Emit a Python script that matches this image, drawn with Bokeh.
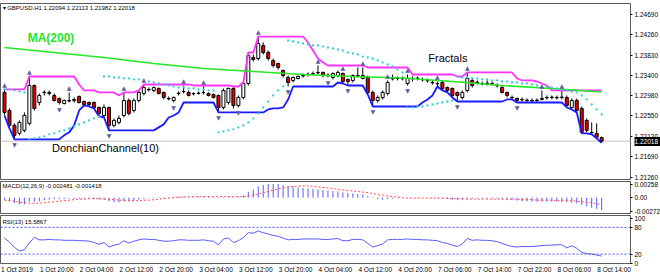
import pandas as pd
from bokeh.plotting import figure
from bokeh.layouts import column
from bokeh.models import (Range1d, FixedTicker, Span, Label, ColumnDataSource,
                          PrintfTickFormatter, LinearAxis)
from bokeh.core.properties import value
from bokeh.embed import file_html
from bokeh.resources import INLINE

header = "\u25be GBPUSD.H1 1.22094 1.22113 1.21982 1.22018"

opens = [1.23045, 1.22665, 1.22350, 1.22182, 1.22245, 1.22392, 1.23192, 1.22833, 1.23040, 1.23024,
         1.22981, 1.22918, 1.22812, 1.22876, 1.22870, 1.22960, 1.22854, 1.22833, 1.22833, 1.22728,
         1.22559, 1.22728, 1.22350, 1.22413, 1.22559, 1.22876, 1.22665, 1.22876, 1.23024, 1.23108,
         1.23087, 1.23129, 1.23045, 1.22918, 1.22876, 1.23024, 1.23066, 1.23045, 1.23024, 1.23024,
         1.23045, 1.23024, 1.23002, 1.22981, 1.22728, 1.22833, 1.23129, 1.22770, 1.22939, 1.23234,
         1.23782, 1.23761, 1.24036, 1.23888, 1.23719, 1.23656, 1.23509, 1.23361, 1.23298, 1.23340,
         1.23403, 1.23424, 1.23445, 1.23467, 1.23467, 1.23403, 1.23361, 1.23403, 1.23445, 1.23319,
         1.23298, 1.23403, 1.23340, 1.23361, 1.23045, 1.22876, 1.22939, 1.23024, 1.23340, 1.23340,
         1.23340, 1.23234, 1.23340, 1.23340, 1.23319, 1.23298, 1.23255, 1.23234, 1.23255, 1.23150,
         1.23129, 1.23045, 1.22939, 1.23087, 1.23298, 1.23255, 1.23234, 1.23234, 1.23234, 1.23192,
         1.23150, 1.23045, 1.22939, 1.22918, 1.22897, 1.22876, 1.22876, 1.22876, 1.22897, 1.22939,
         1.22939, 1.22939, 1.22939, 1.22939, 1.22728, 1.22876, 1.22707, 1.22455, 1.22203, 1.22182,
         1.22094]
highs = [1.23108, 1.22707, 1.22392, 1.22455, 1.22623, 1.23382, 1.23213, 1.23024, 1.23087, 1.23087,
         1.23024, 1.22939, 1.22897, 1.23045, 1.22939, 1.22981, 1.22876, 1.22854, 1.22854, 1.22749,
         1.22791, 1.22749, 1.22497, 1.22559, 1.23045, 1.22918, 1.22918, 1.23087, 1.23213, 1.23150,
         1.23171, 1.23150, 1.23066, 1.22960, 1.22960, 1.23066, 1.23192, 1.23087, 1.23045, 1.23066,
         1.23171, 1.23045, 1.23024, 1.23002, 1.23129, 1.23150, 1.23171, 1.22981, 1.23255, 1.23888,
         1.23846, 1.24225, 1.24099, 1.23930, 1.23761, 1.23677, 1.23530, 1.23403, 1.23382, 1.23403,
         1.23445, 1.23467, 1.23488, 1.23614, 1.23488, 1.23445, 1.23467, 1.23509, 1.23467, 1.23340,
         1.23424, 1.23572, 1.23572, 1.23403, 1.23087, 1.22981, 1.23087, 1.23298, 1.23424, 1.23382,
         1.23382, 1.23424, 1.23382, 1.23382, 1.23361, 1.23340, 1.23298, 1.23276, 1.23298, 1.23171,
         1.23150, 1.23066, 1.23087, 1.23467, 1.23340, 1.23298, 1.23276, 1.23298, 1.23276, 1.23234,
         1.23192, 1.23066, 1.22981, 1.22939, 1.22939, 1.22918, 1.22918, 1.22918, 1.23087, 1.22981,
         1.22981, 1.22981, 1.23087, 1.22981, 1.22918, 1.22918, 1.22749, 1.22497, 1.22413, 1.22392,
         1.22113]
lows = [1.22559, 1.22286, 1.22056, 1.22140, 1.22203, 1.22350, 1.22665, 1.22770, 1.22981, 1.22981,
        1.22854, 1.22791, 1.22791, 1.22833, 1.22833, 1.22812, 1.22770, 1.22749, 1.22707, 1.22538,
        1.22517, 1.22245, 1.22308, 1.22371, 1.22517, 1.22559, 1.22623, 1.22833, 1.22981, 1.23066,
        1.23045, 1.23002, 1.22897, 1.22876, 1.22833, 1.22981, 1.23024, 1.22960, 1.22981, 1.23002,
        1.23002, 1.22960, 1.22918, 1.22623, 1.22686, 1.22791, 1.22707, 1.22728, 1.22897, 1.23192,
        1.23698, 1.23719, 1.23846, 1.23719, 1.23572, 1.23530, 1.23361, 1.23171, 1.23255, 1.23319,
        1.23361, 1.23382, 1.23403, 1.23424, 1.23361, 1.23361, 1.23319, 1.23361, 1.23234, 1.23192,
        1.23255, 1.23361, 1.23319, 1.23002, 1.22749, 1.22833, 1.22897, 1.22981, 1.23298, 1.23298,
        1.23298, 1.23192, 1.23276, 1.23298, 1.23276, 1.23255, 1.23213, 1.23171, 1.23087, 1.23045,
        1.22939, 1.22854, 1.22897, 1.23045, 1.23150, 1.23213, 1.23192, 1.23192, 1.23192, 1.23150,
        1.23024, 1.22939, 1.22897, 1.22833, 1.22854, 1.22833, 1.22833, 1.22833, 1.22876, 1.22897,
        1.22897, 1.22897, 1.22897, 1.22728, 1.22686, 1.22623, 1.22182, 1.22203, 1.22161, 1.22077,
        1.21982]
closes = [1.22623, 1.22350, 1.22140, 1.22413, 1.22559, 1.23192, 1.22707, 1.22981, 1.23050, 1.23045,
          1.22876, 1.22833, 1.22876, 1.22866, 1.22897, 1.22833, 1.22791, 1.22791, 1.22728, 1.22602,
          1.22728, 1.22350, 1.22455, 1.22497, 1.22876, 1.22602, 1.22876, 1.23045, 1.23150, 1.23100,
          1.23150, 1.23024, 1.22939, 1.22910, 1.22939, 1.23030, 1.23060, 1.22981, 1.23018, 1.23030,
          1.23040, 1.22981, 1.22939, 1.22728, 1.23087, 1.23129, 1.22770, 1.22939, 1.23234, 1.23825,
          1.23740, 1.24078, 1.23888, 1.23761, 1.23614, 1.23572, 1.23403, 1.23255, 1.23361, 1.23382,
          1.23395, 1.23430, 1.23440, 1.23460, 1.23403, 1.23410, 1.23445, 1.23467, 1.23276, 1.23276,
          1.23403, 1.23396, 1.23403, 1.23045, 1.22876, 1.22939, 1.23045, 1.23255, 1.23333, 1.23346,
          1.23335, 1.23340, 1.23334, 1.23346, 1.23312, 1.23292, 1.23249, 1.23228, 1.23129, 1.23087,
          1.22981, 1.22981, 1.23045, 1.23340, 1.23192, 1.23262, 1.23228, 1.23240, 1.23228, 1.23185,
          1.23045, 1.22981, 1.22932, 1.22876, 1.22890, 1.22882, 1.22870, 1.22882, 1.22918, 1.22932,
          1.22946, 1.22932, 1.22946, 1.22770, 1.22876, 1.22665, 1.22203, 1.22245, 1.22196, 1.22098,
          1.22018]

ma200_bars = [0, 10, 20, 30, 40, 50, 60, 70, 80, 90, 100, 110, 120]
ma200 = [1.23993, 1.23888, 1.23782, 1.23656, 1.23550, 1.23487, 1.23424, 1.23381, 1.23350,
         1.23276, 1.23192, 1.23128, 1.23054]

sar = [1.23108, 1.23108, 1.23087, 1.23066, 1.23045,
       1.22056, 1.22077, 1.22098, 1.22119, 1.22161, 1.22182, 1.22224, 1.22245, 1.22286, 1.22329,
       1.22371, 1.22413, 1.22455, 1.22497, 1.22538,
       1.23382, 1.23382, 1.23361, 1.23361, 1.23340, 1.23340, 1.23319, 1.23319, 1.23298, 1.23276,
       1.23255, 1.23234, 1.23213, 1.23192, 1.23171, 1.23150, 1.23150, 1.23129, 1.23129, 1.23108,
       1.23108, 1.23087, 1.23087,
       1.22203, 1.22224, 1.22245, 1.22266, 1.22308, 1.22350, 1.22413, 1.22497, 1.22602, 1.22728,
       1.22854, 1.22981, 1.23087, 1.23171,
       1.24141, 1.24120, 1.24099, 1.24078, 1.24057, 1.24036, 1.24036, 1.24014, 1.23993, 1.23972,
       1.23951, 1.23930, 1.23888, 1.23867, 1.23846, 1.23803, 1.23782, 1.23761, 1.23719, 1.23677,
       1.23635, 1.23593, 1.23530, 1.23467,
       1.22728, 1.22728, 1.22749, 1.22749, 1.22770, 1.22791, 1.22812, 1.22833, 1.22854, 1.22876,
       1.23382, 1.23361, 1.23361, 1.23340, 1.23340, 1.23319, 1.23319, 1.23298, 1.23298, 1.23276,
       1.23276, 1.23255, 1.23255, 1.23234, 1.23234, 1.23213, 1.23192, 1.23171, 1.23171, 1.23150,
       1.23129, 1.23108, 1.23087, 1.23066, 1.23045, 1.22981, 1.22897, 1.22791, 1.22686, 1.22580]

fractal_up = [0, 5, 13, 24, 28, 36, 40, 51, 63, 68, 72, 77, 81, 87, 93, 108, 112]
fractal_down = [2, 11, 21, 34, 43, 47, 57, 65, 69, 74, 81, 91, 103]

macd = [-0.0004, -0.0007, -0.0011, -0.0013, -0.0013, -0.0008, -0.0008, -0.0007, -0.0005, -0.0004,
        -0.0003, -0.0003, -0.0003, -0.0002, -0.0002, -0.0002, -0.0002, -0.0002, -0.0003, -0.0004,
        -0.0004, -0.0007, -0.0009, -0.0009, -0.0007, -0.0007, -0.0006, -0.0004, -0.0002, -0.0001,
        0.0001, 0.0001, 0.0001, 0.0001, 0.0001, 0.0002, 0.0002, 0.0002, 0.0002, 0.0002,
        0.0002, 0.0002, 0.0001, -0.0001, 0.0001, 0.0002, 0.0001, 0.0002, 0.0004, 0.0011,
        0.0016, 0.0022, 0.0025, 0.0027, 0.0027, 0.0027, 0.0025, 0.0023, 0.0022, 0.0020,
        0.0019, 0.0018, 0.0017, 0.0016, 0.0015, 0.0014, 0.0013, 0.0012, 0.0010, 0.0009,
        0.0008, 0.0007, 0.0006, 0.0003, -0.0001, -0.0003, -0.0004, -0.0003, -0.0002, -0.0001,
        -0.0001, 0.0000, 0.0000, 0.0000, 0.0000, 0.0000, -0.0001, -0.0001, -0.0002, -0.0003,
        -0.0004, -0.0005, -0.0004, -0.0002, -0.0002, -0.0002, -0.0002, -0.0002, -0.0002, -0.0002,
        -0.0003, -0.0004, -0.0005, -0.0006, -0.0007, -0.0007, -0.0008, -0.0008, -0.0008, -0.0008,
        -0.0008, -0.0008, -0.0008, -0.0009, -0.0010, -0.0011, -0.0014, -0.0017, -0.0020, -0.0022,
        -0.002481]
macd_signal = [-0.0005, -0.0006, -0.0007, -0.0009, -0.0010, -0.0011, -0.0011, -0.0011, -0.0010, -0.0009,
               -0.0008, -0.0007, -0.0006, -0.0005, -0.0004, -0.0003, -0.0003, -0.0002, -0.0002, -0.0002,
               -0.0003, -0.0003, -0.0004, -0.0005, -0.0005, -0.0006, -0.0006, -0.0006, -0.0005, -0.0005,
               -0.0004, -0.0003, -0.0002, -0.0001, 0.0000, 0.0001, 0.0001, 0.0002, 0.0002, 0.0002,
               0.0002, 0.0002, 0.0002, 0.0002, 0.0002, 0.0002, 0.0002, 0.0002, 0.0002, 0.0003,
               0.0005, 0.0007, 0.0010, 0.0012, 0.0015, 0.0017, 0.0019, 0.0021, 0.0022, 0.0023,
               0.0023, 0.0023, 0.0022, 0.0021, 0.0020, 0.0019, 0.0018, 0.0016, 0.0015, 0.0014,
               0.0013, 0.0012, 0.0011, 0.0010, 0.0008, 0.0006, 0.0005, 0.0003, 0.0002, 0.0001,
               0.0000, -0.0001, -0.0001, -0.0001, -0.0001, -0.0001, -0.0001, -0.0001, -0.0001, -0.0001,
               -0.0002, -0.0002, -0.0002, -0.0003, -0.0003, -0.0003, -0.0003, -0.0003, -0.0003, -0.0003,
               -0.0003, -0.0003, -0.0003, -0.0003, -0.0004, -0.0004, -0.0004, -0.0005, -0.0005, -0.0005,
               -0.0005, -0.0006, -0.0006, -0.0006, -0.0006, -0.0007, -0.0008, -0.0009, -0.0010, -0.0012,
               -0.001418]
rsi = [56, 47, 35, 27, 30, 45, 58, 52, 52, 53,
       52, 52, 51, 51, 51, 50, 50, 49, 46, 42,
       46, 36, 40, 42, 50, 45, 49, 52, 54, 53,
       53, 51, 49, 49, 50, 52, 52, 51, 51, 51,
       52, 50, 49, 41, 54, 56, 46, 50, 57, 68,
       67, 72, 68, 65, 62, 60, 56, 52, 53, 53,
       54, 54, 54, 54, 53, 53, 54, 55, 50, 50,
       53, 53, 52, 44, 36, 39, 43, 52, 53, 53,
       53, 54, 53, 53, 52, 52, 51, 50, 46, 44,
       40, 37, 43, 55, 51, 52, 51, 51, 50, 48,
       44, 40, 37, 36, 37, 37, 37, 38, 39, 40,
       40, 41, 41, 34, 39, 33, 24, 21, 20, 18,
       15.5867]

price_ticks = [1.21260, 1.21690, 1.22120, 1.22550, 1.22980, 1.23400, 1.23830, 1.24260, 1.24690]
macd_ticks = [-0.00272, 0.0, 0.00258]
macd_tick_labels = ["-0.00272", "0.00", "0.00258"]
rsi_ticks = [0, 20, 80, 100]
time_labels = ["1 Oct 2019", "1 Oct 20:00", "2 Oct 04:00", "2 Oct 12:00", "2 Oct 20:00",
               "3 Oct 04:00", "3 Oct 12:00", "3 Oct 20:00", "4 Oct 04:00", "4 Oct 12:00",
               "4 Oct 20:00", "7 Oct 06:00", "7 Oct 14:00", "7 Oct 22:00", "8 Oct 06:00",
               "8 Oct 14:00"]

n = len(opens)
for arr in (highs, lows, closes, sar, macd, macd_signal, rsi):
    assert len(arr) == n, len(arr)
idx = list(range(n))

FONT = "Liberation Sans"
FRAME_W = 630
x_range = Range1d(-0.8, 125.8)


def style_yaxis(ax):
    ax.major_label_text_font = FONT
    ax.major_label_text_font_size = "6.5px"
    ax.major_label_text_color = "black"
    ax.major_tick_out = 2
    ax.major_tick_in = 0
    ax.major_tick_line_color = "black"
    ax.minor_tick_line_color = None
    ax.minor_tick_out = 0
    ax.major_label_standoff = 2
    ax.axis_line_color = None


def base_fig(frame_h, y_range, top, bottom, with_xaxis):
    p = figure(frame_width=FRAME_W, frame_height=frame_h, x_range=x_range, y_range=y_range,
               output_backend="svg", toolbar_location=None, tools="",
               x_axis_location="below" if with_xaxis else None, y_axis_location="right",
               min_border_left=0, min_border_right=30, min_border_top=top, min_border_bottom=bottom)
    p.grid.visible = False
    p.outline_line_color = "#5a5a5a"
    p.outline_line_width = 1
    p.background_fill_color = "white"
    p.border_fill_color = "white"
    style_yaxis(p.yaxis[0])
    return p


# ---------------- main price panel ----------------
main = base_fig(177, Range1d(1.21187, 1.24922), 3, 0, False)
main.yaxis[0].ticker = FixedTicker(ticks=price_ticks)
main.yaxis[0].formatter = PrintfTickFormatter(format="%.5f")

# current-price marker on the price scale (black box, white text)
last_axis = LinearAxis(ticker=FixedTicker(ticks=[closes[-1]]),
                       formatter=PrintfTickFormatter(format="%.5f"))
last_axis.axis_line_color = None
last_axis.minor_tick_line_color = None
last_axis.minor_tick_out = 0
last_axis.major_tick_out = 0
last_axis.major_tick_in = 26
last_axis.major_tick_line_width = 9
last_axis.major_tick_line_color = "black"
last_axis.major_label_standoff = -26
last_axis.major_label_text_font = FONT
last_axis.major_label_text_font_size = "6.5px"
last_axis.major_label_text_color = "white"
main.add_layout(last_axis, "right")

main.add_layout(Span(location=closes[-1], dimension="width", line_color="#c0c0c0",
                     line_width=1, level="underlay"))

src = ColumnDataSource(dict(
    x=idx, high=highs, low=lows,
    top=[max(o, c) for o, c in zip(opens, closes)],
    bottom=[min(o, c) for o, c in zip(opens, closes)],
    fill=["white" if c >= o else "#e00000" for o, c in zip(opens, closes)],
))
main.segment(x0="x", y0="high", x1="x", y1="low", source=src, line_color="black", line_width=1)
main.vbar(x="x", width=0.6, top="top", bottom="bottom", fill_color="fill",
          line_color="black", line_width=1, source=src)

upper = pd.Series(highs).rolling(10, min_periods=1).max()
lower = pd.Series(lows).rolling(10, min_periods=1).min()
main.line(idx, list(upper), line_color="#ff33ff", line_width=1.8)
main.line(idx, list(lower), line_color="#1a1aff", line_width=1.8)
main.line(ma200_bars, ma200, line_color="#26e626", line_width=1.6)
main.scatter(idx, sar, marker="circle", size=2.3, fill_color="#30cfd8", line_color=None)

main.text(x=fractal_up, y=[highs[i] for i in fractal_up], text=value("\u25b2"),
          text_font=value("DejaVu Sans"), text_font_size=value("6px"), text_color="#5c5ca0",
          text_align="center", text_baseline="middle", y_offset=-5)
main.text(x=fractal_down, y=[lows[i] for i in fractal_down], text=value("\u25bc"),
          text_font=value("DejaVu Sans"), text_font_size=value("6px"), text_color="#5c5ca0",
          text_align="center", text_baseline="middle", y_offset=5)

main.add_layout(Label(x=9.35, y=1.24204, text="MA(200)", text_font=FONT, text_font_style="bold",
                      text_font_size="12px", text_color="#26e626", text_align="center",
                      text_baseline="middle"))
main.add_layout(Label(x=89.1, y=1.23772, text="Fractals", text_font=FONT,
                      text_font_size="11px", text_color="black", text_align="center",
                      text_baseline="middle"))
main.add_layout(Label(x=20.3, y=1.21873, text="DonchianChannel(10)", text_font=FONT,
                      text_font_size="11px", text_color="black", text_align="center",
                      text_baseline="middle"))
main.add_layout(Label(x=x_range.start, y=main.y_range.end, text=header, text_font=FONT,
                      text_font_size="6px", text_color="black", text_baseline="top",
                      x_offset=2, y_offset=-1))

# ---------------- MACD panel ----------------
macd_fig = base_fig(33, Range1d(-0.00331, 0.00317), 1, 0, False)
macd_fig.yaxis[0].ticker = FixedTicker(ticks=macd_ticks)
macd_fig.yaxis[0].major_label_overrides = dict(zip(macd_ticks, macd_tick_labels))
macd_fig.segment(x0=idx, y0=[0] * n, x1=idx, y1=macd, line_color="#5a5aff", line_width=1)
macd_fig.line(idx, macd_signal, line_color="#ff4a4a", line_width=1, line_dash="2 2")
macd_fig.add_layout(Label(x=x_range.start, y=macd_fig.y_range.end,
                          text=f"MACD(12,26,9) {macd[-1]:.6f} {macd_signal[-1]:.6f}",
                          text_font=FONT, text_font_size="6px", text_color="black",
                          text_baseline="top", x_offset=2, y_offset=-1))

# ---------------- RSI panel ----------------
rsi_fig = base_fig(48, Range1d(-1.1, 106.7), 1, 2, True)
rsi_fig.yaxis[0].ticker = FixedTicker(ticks=rsi_ticks)
for lvl in (80, 20):
    rsi_fig.add_layout(Span(location=lvl, dimension="width", line_color="#5050ee",
                            line_width=1, line_dash="2 2"))
rsi_fig.line(idx, rsi, line_color="#5a5aff", line_width=1)
rsi_fig.add_layout(Label(x=x_range.start, y=rsi_fig.y_range.end,
                         text=f"RSI(13) {rsi[-1]:.4f}", text_font=FONT, text_font_size="6px",
                         text_color="black", text_baseline="top", x_offset=2, y_offset=-3))

time_pos = [i + 2.5 for i in range(0, n, 8)]
xa = rsi_fig.xaxis[0]
xa.ticker = FixedTicker(ticks=time_pos)
xa.major_label_overrides = dict(zip(time_pos, time_labels))
xa.major_label_text_font = FONT
xa.major_label_text_font_size = "6.5px"
xa.major_label_text_color = "black"
xa.major_tick_line_color = None
xa.major_tick_out = 0
xa.major_tick_in = 0
xa.minor_tick_line_color = None
xa.minor_tick_out = 0
xa.axis_line_color = None
xa.major_label_standoff = 2

layout = column(main, macd_fig, rsi_fig, spacing=0)
open("out.html", "w").write(file_html(layout, INLINE))
